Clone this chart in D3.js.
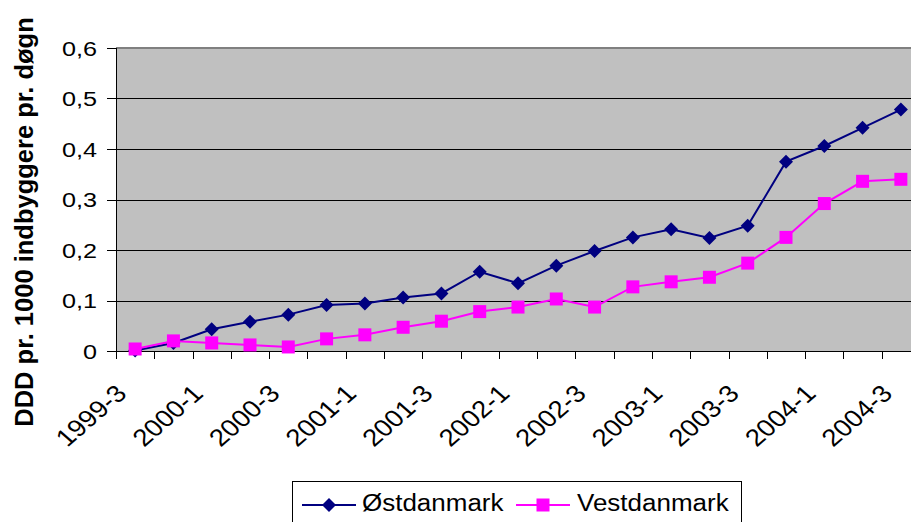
<!DOCTYPE html>
<html>
<head>
<meta charset="utf-8">
<script src="https://cdn.jsdelivr.net/npm/d3@7"></script>
<style>
  body { margin: 0; background: #fff; }
  svg { display: block; font-family: "Liberation Sans", Arial, sans-serif; }
</style>
</head>
<body>
<script>
// quarters shown on the category axis
const quarters = [
  '1999-3', '1999-4',
  '2000-1', '2000-2', '2000-3', '2000-4',
  '2001-1', '2001-2', '2001-3', '2001-4',
  '2002-1', '2002-2', '2002-3', '2002-4',
  '2003-1', '2003-2', '2003-3', '2003-4',
  '2004-1', '2004-2', '2004-3'
];
const ostdanmark = [
  0.001, 0.016, 0.043, 0.058, 0.072, 0.091, 0.094, 0.106, 0.114, 0.157,
  0.134, 0.169, 0.198, 0.225, 0.241, 0.224, 0.248, 0.375, 0.406, 0.442, 0.478
];
const vestdanmark = [
  0.004, 0.020, 0.016, 0.012, 0.008, 0.024, 0.032, 0.047, 0.059, 0.078,
  0.087, 0.103, 0.087, 0.127, 0.137, 0.146, 0.174, 0.225, 0.292, 0.336, 0.340
];
const yTicks = [0, 0.1, 0.2, 0.3, 0.4, 0.5, 0.6];
const yTitle = 'DDD pr. 1000 indbyggere pr. døgn';
const seriesNames = ['Østdanmark', 'Vestdanmark'];

const W = 911, H = 522;
const SX = 1.2; // the original picture is stretched horizontally
const plot = { left: 116, top: 48, right: 920, bottom: 351 };

const svg = d3.select('body').append('svg')
  .attr('width', W).attr('height', H);

const x = d3.scaleBand().domain(quarters).range([plot.left, plot.right]);
const cx = d => x(d) + x.bandwidth() / 2;
const y = d3.scaleLinear().domain([0, 0.6]).range([plot.bottom, plot.top]);
const fmt = v => d3.format('.1f')(v).replace('.', ',').replace(/^0,0$/, '0');

// plot background
svg.append('rect')
  .attr('x', plot.left).attr('y', plot.top)
  .attr('width', plot.right - plot.left).attr('height', plot.bottom - plot.top)
  .attr('fill', '#c0c0c0');

// gridlines
svg.append('g').selectAll('line')
  .data(yTicks.filter(v => v > 0 && v < 0.6))
  .join('line')
  .attr('x1', plot.left).attr('x2', plot.right)
  .attr('y1', d => Math.round(y(d)) + 0.5).attr('y2', d => Math.round(y(d)) + 0.5)
  .attr('stroke', '#000').attr('stroke-width', 1);

// top border
svg.append('line')
  .attr('x1', plot.left).attr('x2', plot.right)
  .attr('y1', plot.top).attr('y2', plot.top)
  .attr('stroke', '#808080').attr('stroke-width', 2);

// y axis
svg.append('line')
  .attr('x1', plot.left + 0.5).attr('x2', plot.left + 0.5)
  .attr('y1', plot.top).attr('y2', plot.bottom)
  .attr('stroke', '#000');
const yt = svg.append('g').selectAll('g').data(yTicks).join('g');
yt.append('line')
  .attr('x1', plot.left - 9).attr('x2', plot.left)
  .attr('y1', d => Math.round(y(d)) + 0.5).attr('y2', d => Math.round(y(d)) + 0.5)
  .attr('stroke', '#000');
yt.append('text')
  .attr('transform', d => 'translate(97,' + y(d) + ') scale(' + SX + ',1)')
  .attr('text-anchor', 'end').attr('dy', '0.36em')
  .attr('font-size', 21).attr('fill', '#000')
  .text(d => fmt(d));

// x axis
svg.append('line')
  .attr('x1', plot.left).attr('x2', plot.right)
  .attr('y1', plot.bottom + 0.5).attr('y2', plot.bottom + 0.5)
  .attr('stroke', '#000');
svg.append('g').selectAll('line')
  .data(quarters)
  .join('line')
  .attr('x1', d => Math.round(x(d)) + 0.5).attr('x2', d => Math.round(x(d)) + 0.5)
  .attr('y1', plot.bottom).attr('y2', plot.bottom + 8)
  .attr('stroke', '#000');
svg.append('g').selectAll('text')
  .data(quarters.filter((d, i) => i % 2 === 0))
  .join('text')
  .attr('transform', d => 'translate(' + (cx(d) - 7) + ',' + (plot.bottom + 44) + ') scale(1.15,1) rotate(-45)')
  .attr('text-anchor', 'end')
  .attr('font-size', 24).attr('fill', '#000')
  .text(d => d);

// y title
svg.append('text')
  .attr('transform', 'translate(33,' + 222 + ') rotate(-90)')
  .attr('text-anchor', 'middle')
  .attr('font-size', 25.5).attr('font-weight', 'bold').attr('fill', '#000')
  .text(yTitle);

// series
const line = d3.line().x((d, i) => cx(quarters[i])).y(d => y(d));
const diamond = 'M0,-7L7,0L0,7L-7,0Z';
const square = 'M-6.5,-6.5H6.5V6.5H-6.5Z';

function drawSeries(values, color, shape) {
  const g = svg.append('g');
  g.append('path').datum(values)
    .attr('d', line).attr('fill', 'none')
    .attr('stroke', color).attr('stroke-width', 2);
  g.selectAll('path.m').data(values).join('path')
    .attr('class', 'm')
    .attr('transform', (d, i) => 'translate(' + cx(quarters[i]) + ',' + y(d) + ')')
    .attr('d', shape).attr('fill', color);
}
drawSeries(ostdanmark, '#000080', diamond);
drawSeries(vestdanmark, '#ff00ff', square);

// legend
const lg = svg.append('g');
lg.append('rect')
  .attr('x', 292.5).attr('y', 481.5).attr('width', 449).attr('height', 60)
  .attr('fill', '#fff').attr('stroke', '#000');
const items = [
  { name: seriesNames[0], color: '#000080', shape: diamond, x0: 302, x1: 356, tx: 362 },
  { name: seriesNames[1], color: '#ff00ff', shape: square, x0: 516, x1: 570, tx: 577 }
];
const li = lg.selectAll('g').data(items).join('g');
li.append('line')
  .attr('x1', d => d.x0).attr('x2', d => d.x1)
  .attr('y1', 505).attr('y2', 505)
  .attr('stroke', d => d.color).attr('stroke-width', 2);
li.append('path')
  .attr('transform', d => 'translate(' + (d.x0 + d.x1) / 2 + ',505)')
  .attr('d', d => d.shape).attr('fill', d => d.color);
li.append('text')
  .attr('transform', d => 'translate(' + d.tx + ',511) scale(1.13,1)')
  .attr('font-size', 23).attr('fill', '#000')
  .text(d => d.name);
</script>
</body>
</html>
